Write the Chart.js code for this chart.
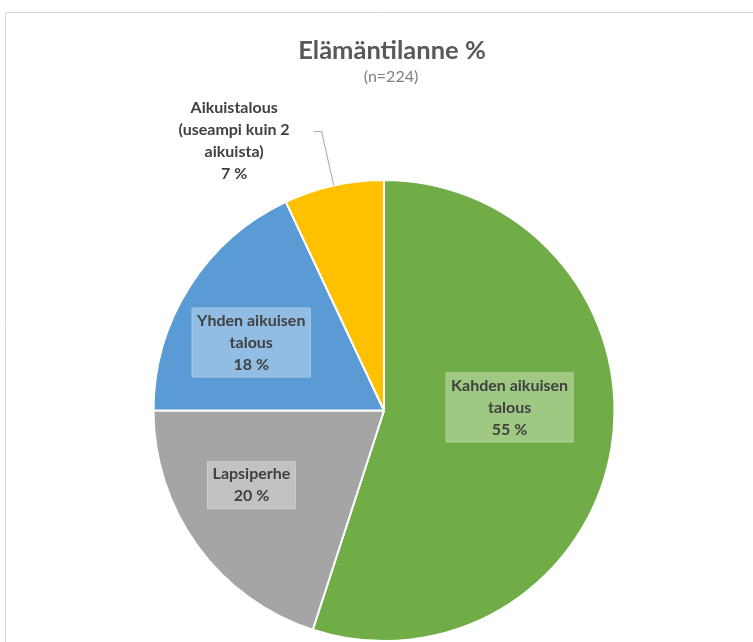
<!DOCTYPE html>
<html>
<head>
<meta charset="utf-8">
<script src="https://cdn.jsdelivr.net/npm/chart.js@4.4.1/dist/chart.umd.min.js"></script>
<style>
    html, body { margin: 0; padding: 0; background: #fff; }
    canvas { display: block; }
</style>
</head>
<body>
<canvas id="myChart" width="753" height="642"></canvas>
<script>
const categories = ['Kahden aikuisen talous', 'Lapsiperhe', 'Yhden aikuisen talous', 'Aikuistalous (useampi kuin 2 aikuista)'];
const percents = [55, 20, 18, 7];
const labelLines = [
    ['Kahden aikuisen', 'talous'],
    ['Lapsiperhe'],
    ['Yhden aikuisen', 'talous'],
    ['Aikuistalous', '(useampi kuin 2', 'aikuista)']
];
const sliceColors = ['#70AD47', '#A5A5A5', '#5B9BD5', '#FFC000'];
const chartTitle = 'Elämäntilanne %';
const chartSubtitle = '(n=224)';

// where each label sits: inside slices use radius fraction + angle nudge (deg)
const labelPlaces = [
    { inside: true, r: 0.545, da: -10.4 },
    { inside: true, r: 0.66, da: 6.6 },
    { inside: true, r: 0.647, da: -5.3 },
    { inside: false, r: 1.24 }
];

const frameAndTitle = {
    id: 'frameAndTitle',
    beforeDraw(chart) {
        const ctx = chart.ctx;
        ctx.save();
        ctx.strokeStyle = '#d9d9d9';
        ctx.lineWidth = 1;
        ctx.beginPath();
        ctx.moveTo(5.5, chart.height);
        ctx.lineTo(5.5, 12.5);
        ctx.lineTo(chart.width, 12.5);
        ctx.stroke();

        ctx.textAlign = 'center';
        ctx.textBaseline = 'middle';
        ctx.fillStyle = '#595959';
        ctx.font = 'bold 25.5px Lato';
        ctx.fillText(chartTitle, 392, 51);
        ctx.fillStyle = '#7f7f7f';
        ctx.font = '16px Lato';
        ctx.fillText(chartSubtitle, 391, 77);
        ctx.restore();
    }
};

const pieLabels = {
    id: 'pieLabels',
    afterDatasetsDraw(chart) {
        const ctx = chart.ctx;
        const meta = chart.getDatasetMeta(0);
        const lh = 22;
        ctx.save();
        ctx.font = 'bold 16px Lato';
        ctx.textAlign = 'center';
        ctx.textBaseline = 'middle';

        meta.data.forEach((arc, i) => {
            const p = arc.getProps(['x', 'y', 'startAngle', 'endAngle', 'outerRadius'], true);
            const place = labelPlaces[i];
            const lines = labelLines[i].concat([percents[i] + ' %']);
            const maxW = Math.max(...lines.map(t => ctx.measureText(t).width));
            const mid = (p.startAngle + p.endAngle) / 2;
            const R = p.outerRadius;
            let cx, cy;

            if (place.inside) {
                const a = mid + place.da * Math.PI / 180;
                cx = p.x + R * place.r * Math.cos(a);
                cy = p.y + R * place.r * Math.sin(a);
                const bw = maxW + 11;
                const bh = lines.length * lh + 4;
                ctx.fillStyle = 'rgba(255,255,255,0.33)';
                ctx.fillRect(cx - bw / 2, cy - bh / 2, bw, bh);
                ctx.strokeStyle = 'rgba(255,255,255,0.2)';
                ctx.lineWidth = 1;
                ctx.strokeRect(cx - bw / 2 + 0.5, cy - bh / 2 + 0.5, bw - 1, bh - 1);
            } else {
                const ex = p.x + R * Math.cos(mid);
                const ey = p.y + R * Math.sin(mid);
                const kx = p.x + R * place.r * Math.cos(mid);
                const ky = p.y + R * place.r * Math.sin(mid);
                ctx.strokeStyle = '#a6a6a6';
                ctx.lineWidth = 1;
                ctx.beginPath();
                ctx.moveTo(ex, ey);
                ctx.lineTo(kx, ky);
                ctx.lineTo(kx - 8, ky);
                ctx.stroke();
                cx = kx - 8 - 24 - maxW / 2;
                cy = ky + 9;
            }

            ctx.fillStyle = '#404040';
            const top = cy - (lines.length - 1) * lh / 2;
            lines.forEach((t, j) => ctx.fillText(t, cx, top + j * lh));
        });
        ctx.restore();
    }
};

const ctx = document.getElementById('myChart');

const myChart = new Chart(ctx, {
    type: 'pie',
    data: {
        labels: categories,
        datasets: [{
            data: percents,
            backgroundColor: sliceColors,
            borderColor: '#ffffff',
            borderWidth: 2
        }]
    },
    options: {
        responsive: false,
        animation: false,
        layout: {
            padding: { top: 179, bottom: 0, left: 15, right: 0 }
        },
        plugins: {
            legend: { display: false },
            tooltip: { enabled: false },
            title: { display: false }
        }
    },
    plugins: [frameAndTitle, pieLabels]
});
</script>
</body>
</html>
